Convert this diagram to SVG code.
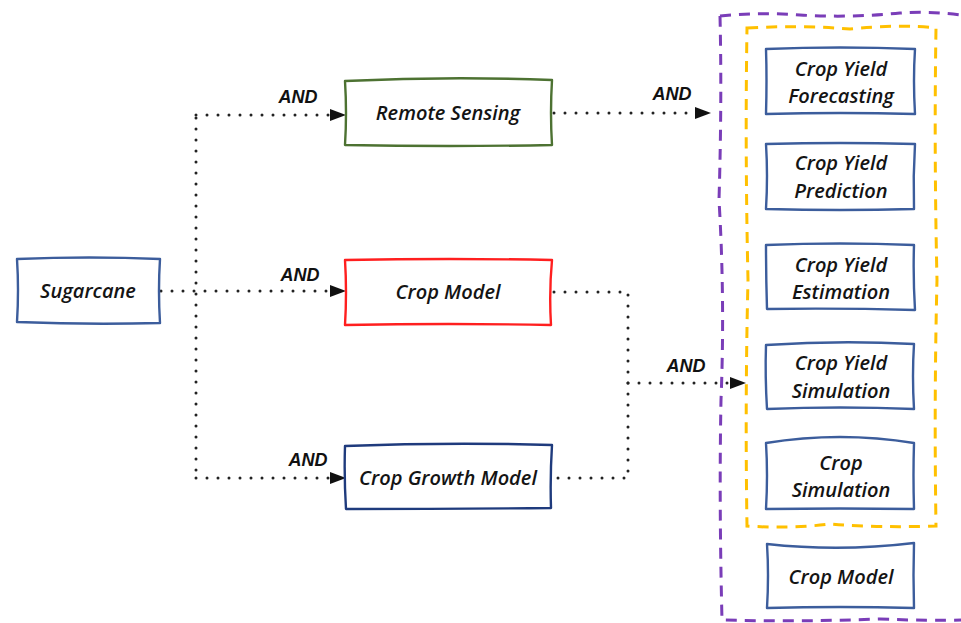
<svg xmlns="http://www.w3.org/2000/svg" width="961" height="623" viewBox="0 0 961 623">
<defs>
<style>
.box{fill:#fff;stroke-width:2.4;stroke-linejoin:round}
.blue{stroke:#3c5d9c}
.navy{stroke:#1f3b7d}
.green{stroke:#4d7232}
.red{stroke:#ff1f1f}
.lbl{font-family:"Open Sans","Liberation Sans",sans-serif;font-style:italic;font-weight:600;font-size:20px;fill:#141414;text-anchor:middle}
.and{font-family:"Liberation Sans",Arial,sans-serif;font-style:italic;font-weight:bold;font-size:18px;fill:#111;text-anchor:middle}
.dot{fill:none;stroke:#222;stroke-width:3;stroke-linecap:round;stroke-dasharray:0 11}
.purple{fill:none;stroke:#7a3db8;stroke-width:3;stroke-dasharray:11 8}
.yellow{fill:none;stroke:#ffc000;stroke-width:3;stroke-dasharray:11 8}
</style>
<marker id="arr" markerWidth="16" markerHeight="12" refX="15" refY="6" orient="auto" markerUnits="userSpaceOnUse">
<path d="M0,0 L16,6 L0,12 Z" fill="#111"/>
</marker>
</defs>
<rect width="961" height="623" fill="#fff"/>

<g id="connectors">
<path class="dot" d="M161,291 H343"/>
<path class="dot" d="M196,470 V117"/>
<path class="dot" d="M196,115 H343"/>
<path class="dot" d="M196,478 H343"/>
<path class="dot" d="M554,113 H708"/>
<path class="dot" d="M554,292 H628 V478 H554"/>
<path class="dot" d="M628,383 H742"/>
<path d="M329,291 H345" stroke="none" fill="none" marker-end="url(#arr)"/>
<path d="M329,115 H345" stroke="none" fill="none" marker-end="url(#arr)"/>
<path d="M329,478 H345" stroke="none" fill="none" marker-end="url(#arr)"/>
<path d="M694,113 H710" stroke="none" fill="none" marker-end="url(#arr)"/>
<path d="M729,383 H745" stroke="none" fill="none" marker-end="url(#arr)"/>
<text class="and" x="298" y="103">AND</text>
<text class="and" x="300" y="281">AND</text>
<text class="and" x="308" y="466">AND</text>
<text class="and" x="672" y="100">AND</text>
<text class="and" x="686" y="372">AND</text>
</g>

<g id="group-purple">
<path class="purple" d="M720,16 Q760,12 800,15 Q850,18 900,13 Q930,11 961,15 M720,16 Q722,100 719,200 Q725,300 721,400 Q719,500 722,620 Q800,622 880,619 Q930,621 961,620"/>
</g>
<g id="group-yellow">
<path class="yellow" d="M747,28 Q800,25 850,29 Q900,24 936,28 Q934,150 937,280 Q934,400 936,526 Q880,528 830,524 Q790,529 747,526 Q745,400 748,280 Q745,150 747,28 Z"/>
</g>

<g id="n-sugarcane">
<path class="box blue" d="M17,259 Q90,256 160,259 Q158,290 160,323 Q90,325 17,322 Q19,290 17,259 Z"/>
<text class="lbl" x="88" y="298">Sugarcane</text>
</g>
<g id="n-remote">
<path class="box green" d="M345,81 Q450,76 552,80 Q550,113 552,145 Q450,147 345,145 Q347,113 345,81 Z"/>
<text class="lbl" x="448" y="120">Remote Sensing</text>
</g>
<g id="n-cropmodel">
<path class="box red" d="M345,260 Q450,258 552,260 Q549,292 551,325 Q450,323 345,325 Q347,292 345,260 Z"/>
<text class="lbl" x="448" y="299">Crop Model</text>
</g>
<g id="n-growth">
<path class="box navy" d="M345,446 Q450,442 552,445 Q550,477 551,508 Q450,509 346,509 Q344,477 345,446 Z"/>
<text class="lbl" x="448" y="485">Crop Growth Model</text>
</g>

<g id="n-forecasting">
<path class="box blue" d="M766,49 Q840,46 915,49 Q913,80 915,114 Q840,112 766,114 Q767,80 766,49 Z"/>
<text class="lbl" x="841" y="76">Crop Yield</text>
<text class="lbl" x="841" y="103">Forecasting</text>
</g>
<g id="n-prediction">
<path class="box blue" d="M766,144 Q840,142 915,144 Q913,176 914,209 Q840,211 766,209 Q768,176 766,144 Z"/>
<text class="lbl" x="841" y="170">Crop Yield</text>
<text class="lbl" x="841" y="198">Prediction</text>
</g>
<g id="n-estimation">
<path class="box blue" d="M766,245 Q840,242 914,245 Q913,277 915,310 Q840,308 767,309 Q766,277 766,245 Z"/>
<text class="lbl" x="841" y="272">Crop Yield</text>
<text class="lbl" x="841" y="299">Estimation</text>
</g>
<g id="n-simulation">
<path class="box blue" d="M766,345 Q840,340 914,344 Q912,376 914,409 Q840,406 767,409 Q765,376 766,345 Z"/>
<text class="lbl" x="841" y="370">Crop Yield</text>
<text class="lbl" x="841" y="398">Simulation</text>
</g>
<g id="n-cropsim">
<path class="box blue" d="M766,443 Q840,431 914,443 Q913,475 914,509 Q840,508 766,509 Q768,475 766,443 Z"/>
<text class="lbl" x="841" y="470">Crop</text>
<text class="lbl" x="841" y="497">Simulation</text>
</g>
<g id="n-cropmodel2">
<path class="box blue" d="M767,544 Q840,552 914,543 Q913,575 914,608 Q840,606 767,608 Q769,575 767,544 Z"/>
<text class="lbl" x="841" y="584">Crop Model</text>
</g>
</svg>
